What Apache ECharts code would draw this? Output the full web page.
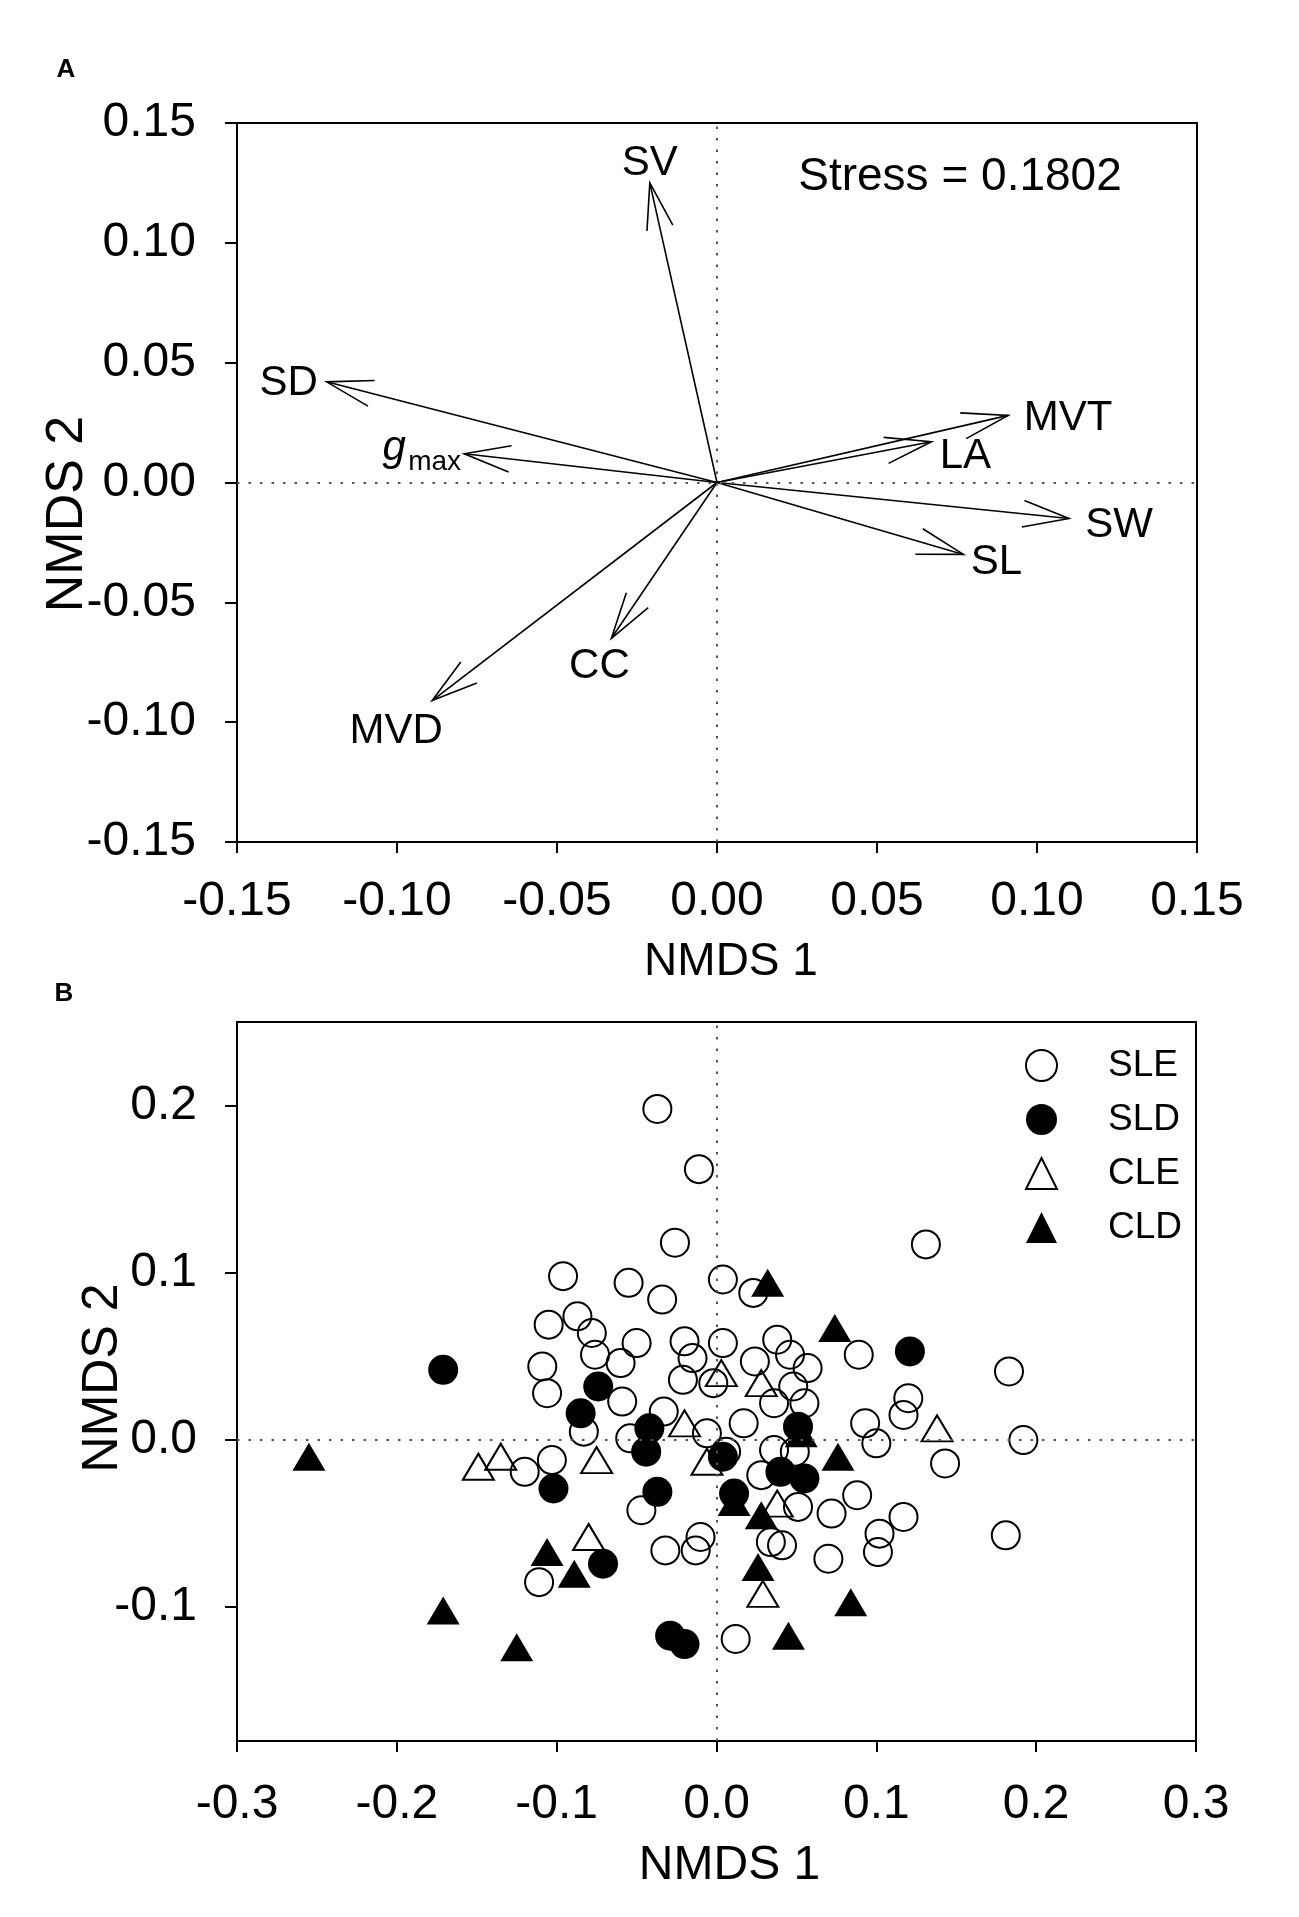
<!DOCTYPE html>
<html>
<head>
<meta charset="utf-8">
<script src="https://cdn.jsdelivr.net/npm/echarts@6/dist/echarts.min.js"></script>
<style>
html,body{margin:0;padding:0;background:#fff;}
#chart{width:1299px;height:1917px;}
</style>
</head>
<body>
<div id="chart"></div>
<script>
// ---------- Panel A: NMDS trait vectors ----------
const vectorNames = ['SV', 'SD', 'gmax', 'MVT', 'LA', 'SW', 'SL', 'CC', 'MVD'];
const vectorX = [-0.021, -0.122, -0.079, 0.091, 0.067, 0.110, 0.077, -0.033, -0.089];
const vectorY = [0.125, 0.042, 0.012, 0.028, 0.017, -0.015, -0.030, -0.065, -0.091];
const stressText = 'Stress = 0.1802';

// ---------- Panel B: NMDS site scores ----------
const groupNames = ['SLE', 'SLD', 'CLE', 'CLD'];
const sleX = [-0.037, -0.011, -0.026, -0.096, -0.055, -0.034, 0.004, 0.023, 0.131, -0.105,
              -0.087, -0.078, -0.050, -0.076, -0.060, -0.109, -0.106, -0.020, -0.015, -0.021,
              -0.059, -0.033, 0.004, 0.038, 0.024, 0.046, 0.057, -0.002, 0.048, 0.055,
              0.036, 0.089, 0.183, 0.120, 0.117, 0.017, 0.093, 0.100, 0.192, 0.143,
              -0.083, -0.054, -0.006, 0.006, 0.036, 0.049, 0.028, -0.103, -0.120, -0.047,
              0.088, 0.072, 0.051, 0.117, 0.102, 0.101, 0.070, 0.041, 0.034, 0.181,
              -0.032, -0.010, -0.013, -0.111, 0.012];
const sleY = [0.198, 0.162, 0.118, 0.098, 0.094, 0.084, 0.096, 0.088, 0.117, 0.069,
              0.074, 0.064, 0.058, 0.051, 0.046, 0.044, 0.028, 0.059, 0.049, 0.036,
              0.023, 0.017, 0.058, 0.060, 0.047, 0.051, 0.043, 0.034, 0.032, 0.022,
              0.022, 0.051, 0.041, 0.025, 0.015, 0.010, 0.010, -0.002, 0.000, -0.014,
              0.005, 0.001, 0.004, -0.007, -0.006, -0.007, -0.021, -0.012, -0.019, -0.042,
              -0.033, -0.044, -0.040, -0.046, -0.056, -0.067, -0.071, -0.063, -0.061, -0.057,
              -0.066, -0.058, -0.066, -0.085, -0.119];
const sldX = [-0.171, -0.074, -0.085, -0.042, -0.044, -0.037, -0.102, -0.071, -0.029, -0.020,
              0.121, 0.051, 0.004, 0.040, 0.055, 0.011];
const sldY = [0.042, 0.032, 0.016, 0.007, -0.007, -0.031, -0.029, -0.074, -0.117, -0.122,
              0.053, 0.008, -0.010, -0.019, -0.023, -0.032];
const cleX = [-0.149, -0.135, -0.075, -0.080, -0.020, 0.003, 0.028, -0.006, 0.138, 0.038, 0.029];
const cleY = [-0.016, -0.010, -0.012, -0.058, 0.010, 0.040, 0.034, -0.013, 0.007, -0.038, -0.092];
const cldX = [-0.255, -0.106, -0.089, -0.171, -0.125, 0.032, 0.074, 0.053, 0.076, 0.011,
              0.028, 0.026, 0.084, 0.045];
const cldY = [-0.010, -0.067, -0.080, -0.102, -0.124, 0.094, 0.067, 0.004, -0.010, -0.037,
              -0.045, -0.076, -0.097, -0.117];
const yTicksB = [-0.1, 0.0, 0.1, 0.2];

// ---------- styles ----------
const FONT = '"Liberation Sans", Arial, Helvetica, sans-serif';
const labelOffsets = {
  SV: [0, -19], SD: [-38, 2], MVT: [60, 3], LA: [34, 15],
  SW: [50, 7], SL: [33, 8], CC: [-12, 28], MVD: [-36, 31]
};
const zip = (xs, ys) => xs.map((x, i) => [x, ys[i]]);
const fmt = d => v => (Math.abs(v) < 1e-9 ? 0 : v).toFixed(d);

function axisCommon(extra) {
  return Object.assign({
    type: 'value',
    axisLine: { show: true, onZero: false, lineStyle: { color: '#000', width: 2 } },
    axisTick: { show: true, inside: false, length: 11, lineStyle: { color: '#000', width: 2 } },
    splitLine: { show: false },
    nameLocation: 'middle',
    nameMoveOverlap: false
  }, extra);
}

const dotted = {
  silent: true, symbol: ['none', 'none'], label: { show: false },
  lineStyle: { type: [2.5, 9], color: '#555', width: 2 },
  emphasis: { disabled: true },
  data: [{ xAxis: 0 }, { yAxis: 0 }]
};

function renderVector(params, api) {
  const i = params.dataIndex;
  const o = api.coord([0, 0]);
  const t = api.coord([api.value(0), api.value(1)]);
  const dx = o[0] - t[0], dy = o[1] - t[1];
  const len = Math.hypot(dx, dy);
  const ux = dx / len, uy = dy / len;
  const L = 48, a = 16 * Math.PI / 180, c = Math.cos(a), s = Math.sin(a);
  const h1 = [t[0] + L * (ux * c - uy * s), t[1] + L * (ux * s + uy * c)];
  const h2 = [t[0] + L * (ux * c + uy * s), t[1] + L * (-ux * s + uy * c)];
  const name = vectorNames[i];
  const children = [
    { type: 'line', shape: { x1: o[0], y1: o[1], x2: t[0], y2: t[1] }, style: { stroke: '#000', lineWidth: 1.6 } },
    { type: 'polyline', shape: { points: [h1, t, h2] }, style: { stroke: '#000', lineWidth: 1.6, fill: null } }
  ];
  if (name === 'gmax') {
    children.push({ type: 'text', x: t[0] - 70, y: t[1] - 5,
      style: { text: 'g', fontSize: 42, fontStyle: 'italic', fontFamily: FONT, fill: '#000', align: 'center', verticalAlign: 'middle' } });
    children.push({ type: 'text', x: t[0] - 56, y: t[1] + 9,
      style: { text: 'max', fontSize: 28, fontFamily: FONT, fill: '#000', align: 'left', verticalAlign: 'middle' } });
  } else {
    const off = labelOffsets[name];
    children.push({ type: 'text', x: t[0] + off[0], y: t[1] + off[1],
      style: { text: name, fontSize: 42, fontFamily: FONT, fill: '#000', align: 'center', verticalAlign: 'middle' } });
  }
  return { type: 'group', children: children };
}

const chart = echarts.init(document.getElementById('chart'), null, { renderer: 'canvas' });
chart.setOption({
  animation: false,
  backgroundColor: '#fff',
  textStyle: { fontFamily: FONT, color: '#000' },
  graphic: [
    { type: 'text', x: 66, y: 70, style: { text: 'A', font: 'bold 26px ' + FONT, fill: '#000', textAlign: 'center', textVerticalAlign: 'middle' } },
    { type: 'text', x: 64, y: 994, style: { text: 'B', font: 'bold 26px ' + FONT, fill: '#000', textAlign: 'center', textVerticalAlign: 'middle' } },
    { type: 'text', x: 960, y: 177, style: { text: stressText, font: '46px ' + FONT, fill: '#000', textAlign: 'center', textVerticalAlign: 'middle' } }
  ],
  grid: [
    { left: 237, top: 123, width: 960, height: 719, show: true, borderColor: '#000', borderWidth: 2, backgroundColor: 'transparent' },
    { left: 237, top: 1022, width: 959, height: 719, show: true, borderColor: '#000', borderWidth: 2, backgroundColor: 'transparent' }
  ],
  xAxis: [
    axisCommon({ gridIndex: 0, min: -0.15, max: 0.15, interval: 0.05,
      axisLabel: { margin: 36, fontSize: 48, color: '#000', fontFamily: FONT, formatter: fmt(2) },
      name: 'NMDS 1', nameGap: 97,
      nameTextStyle: { fontSize: 46, color: '#000', fontFamily: FONT, padding: [0, 0, 0, 28] } }),
    axisCommon({ gridIndex: 1, min: -0.3, max: 0.3, interval: 0.1,
      axisLabel: { margin: 40, fontSize: 48, color: '#000', fontFamily: FONT, formatter: fmt(1) },
      name: 'NMDS 1', nameGap: 101,
      nameTextStyle: { fontSize: 48, color: '#000', fontFamily: FONT, padding: [0, 0, 0, 26] } })
  ],
  yAxis: [
    axisCommon({ gridIndex: 0, min: -0.15, max: 0.15, interval: 0.05,
      axisLabel: { margin: 41, fontSize: 48, color: '#000', fontFamily: FONT, formatter: fmt(2) },
      axisTick: { show: true, length: 12, lineStyle: { color: '#000', width: 2 } },
      name: 'NMDS 2', nameGap: 143,
      nameTextStyle: { fontSize: 52, color: '#000', fontFamily: FONT, padding: [0, 63, 0, 0] } }),
    axisCommon({ gridIndex: 1, min: -0.18, max: 0.25,
      axisLabel: { margin: 40, fontSize: 48, color: '#000', fontFamily: FONT, formatter: fmt(1), customValues: yTicksB },
      axisTick: { show: true, length: 12, lineStyle: { color: '#000', width: 2 }, customValues: yTicksB },
      name: 'NMDS 2', nameGap: 109,
      nameTextStyle: { fontSize: 50, color: '#000', fontFamily: FONT, padding: [0, 0, 0, 7] } })
  ],
  legend: {
    data: groupNames, orient: 'vertical', left: 1020, top: 1042,
    itemWidth: 31, itemHeight: 31, itemGap: 17,
    textStyle: { fontSize: 37, color: '#000', fontFamily: FONT, padding: [0, 0, 0, 46] }
  },
  series: [
    { type: 'custom', name: 'vectors', xAxisIndex: 0, yAxisIndex: 0,
      data: zip(vectorX, vectorY), renderItem: renderVector, markLine: dotted, silent: true },
    { type: 'scatter', name: 'SLE', xAxisIndex: 1, yAxisIndex: 1, data: zip(sleX, sleY),
      symbol: 'circle', symbolSize: 28,
      itemStyle: { color: 'transparent', borderColor: '#000', borderWidth: 2, opacity: 1 }, markLine: dotted },
    { type: 'scatter', name: 'SLD', xAxisIndex: 1, yAxisIndex: 1, data: zip(sldX, sldY),
      symbol: 'circle', symbolSize: 30,
      itemStyle: { color: '#000', borderColor: '#000', borderWidth: 0, opacity: 1 } },
    { type: 'scatter', name: 'CLE', xAxisIndex: 1, yAxisIndex: 1, data: zip(cleX, cleY),
      symbol: 'triangle', symbolSize: [31, 26],
      itemStyle: { color: 'transparent', borderColor: '#000', borderWidth: 2, opacity: 1 } },
    { type: 'scatter', name: 'CLD', xAxisIndex: 1, yAxisIndex: 1, data: zip(cldX, cldY),
      symbol: 'triangle', symbolSize: [33, 28],
      itemStyle: { color: '#000', borderColor: '#000', borderWidth: 0, opacity: 1 } }
  ]
});
</script>
</body>
</html>
